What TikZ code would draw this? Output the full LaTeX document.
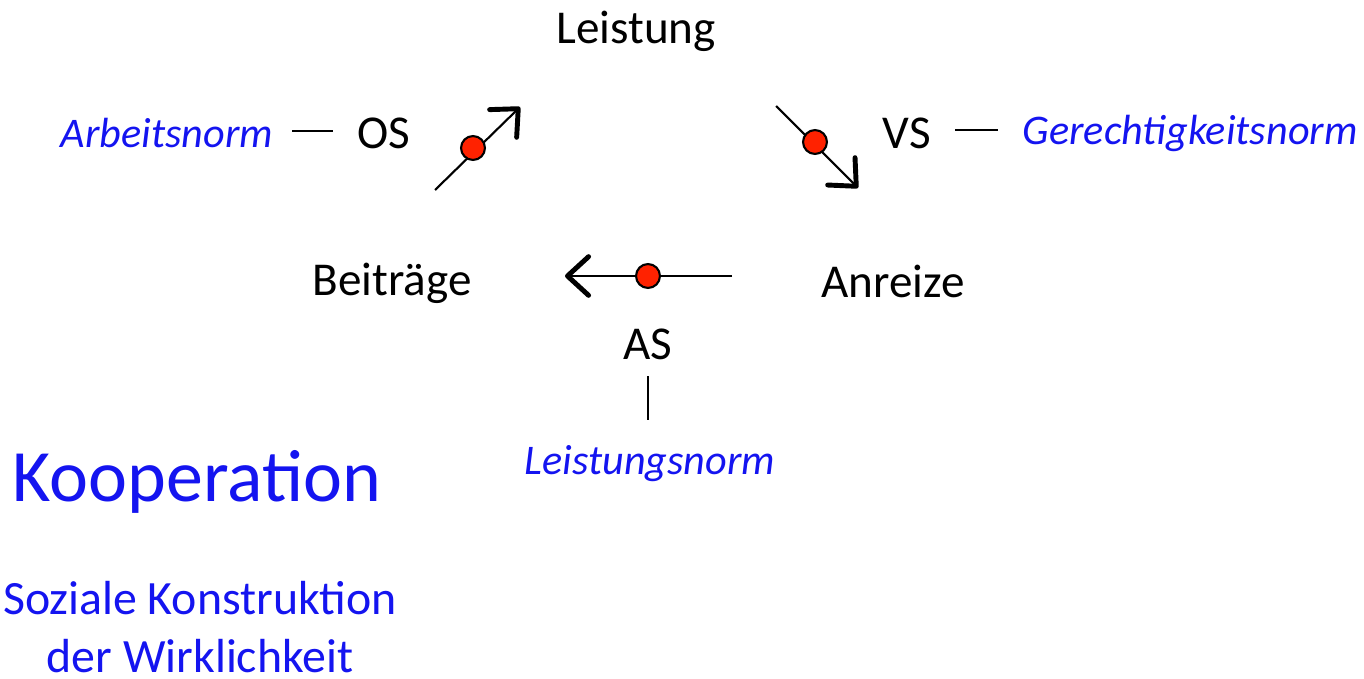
\documentclass[tikz,border=0pt]{standalone}
\usepackage{fontspec}
\setmainfont{Carlito}
\usetikzlibrary{arrows.meta}
\definecolor{nblue}{RGB}{20,20,240}
\definecolor{dotred}{RGB}{255,34,0}
\begin{document}
\begin{tikzpicture}[x=0.01cm,y=-0.01cm,
  lbl/.style={inner sep=0pt,font=\fontsize{13.4}{16}\selectfont},
  norm/.style={inner sep=0pt,text=nblue,font=\fontsize{12}{14}\selectfont\itshape},
  big/.style={inner sep=0pt,text=nblue,font=\fontsize{21}{25}\selectfont},
  sub/.style={inner sep=0pt,text=nblue,align=center,font=\fontsize{13.6}{16.6}\selectfont},
  flow/.style={line width=0.6pt,-{Straight Barb[length=6pt,width=11pt,line width=1.4pt,round]}},
  tick/.style={line width=0.6pt},
  dotm/.style={circle,draw=black,line width=0.6pt,fill=dotred,minimum size=6.8pt,inner sep=0pt}]
\useasboundingbox (0,0) rectangle (1364,679);
\node[lbl] (leis) at (636,31) {Leistung};
\node[lbl] (beit) at (392,283) {Beiträge};
\node[lbl] (anr) at (893,281) {Anreize};
\node[lbl] (os) at (384,133) {OS};
\node[lbl] (vs) at (907,133) {VS};
\node[lbl] (as) at (648,344) {AS};
\node[norm] (arb) at (167,133) {Arbeitsnorm};
\node[norm] (ger) at (1190,133) {Gerechtigkeitsnorm};
\node[norm] (lnorm) at (650,464) {Leistungsnorm};
\node[big] (koop) at (197,482) {Kooperation};
\node[sub] (soz) at (200,627) {Soziale Konstruktion\\der Wirklichkeit};
\coordinate (a1s) at (435,190); \coordinate (a1e) at (520,107);
\coordinate (a2s) at (776,106); \coordinate (a2e) at (858,188);
\coordinate (a3s) at (732,276); \coordinate (a3e) at (565,276);
\draw[flow] (a1s) -- (a1e);
\draw[flow] (a2s) -- (a2e);
\draw[flow] (a3s) -- (a3e);
\node[dotm] (d1) at (473,148) {};
\node[dotm] (d2) at (815,142) {};
\node[dotm] (d3) at (648,276) {};
\coordinate (osl) at (292,131); \coordinate (osr) at (333,131);
\coordinate (vsl) at (955,130); \coordinate (vsr) at (998,130);
\coordinate (ast) at (648,376); \coordinate (asb) at (648,420);
\draw[tick] (osl) -- (osr);
\draw[tick] (vsl) -- (vsr);
\draw[tick] (ast) -- (asb);
\end{tikzpicture}
\end{document}
